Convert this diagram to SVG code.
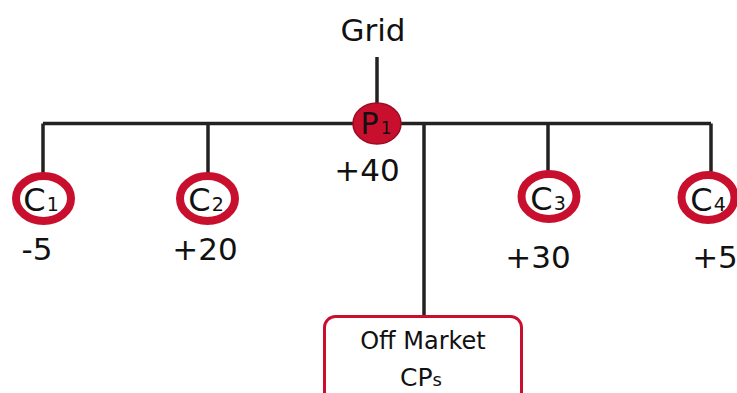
<svg xmlns="http://www.w3.org/2000/svg" width="737" height="393" viewBox="0 0 737 393">
<style>
.ln{stroke:#222;stroke-width:3.5;fill:none}
.cn{fill:#fff;stroke:#c8102e;stroke-width:8}
.t{font-family:"DejaVu Sans","Liberation Sans",sans-serif;fill:#111}
.lbl{font-size:31px;text-anchor:middle}
.sub{font-size:19px}
.cl{font-size:32px;text-anchor:middle}
</style>
<rect width="737" height="393" fill="#fff"/>
<g id="connectors">
<line class="ln" x1="377" y1="57" x2="377" y2="105"/>
<line class="ln" x1="43" y1="123.5" x2="711" y2="123.5"/>
<line class="ln" x1="43" y1="123.5" x2="43" y2="175"/>
<line class="ln" x1="208" y1="123.5" x2="208" y2="175"/>
<line class="ln" x1="548" y1="123.5" x2="548" y2="173"/>
<line class="ln" x1="711" y1="123.5" x2="711" y2="174"/>
<line class="ln" x1="424" y1="123.5" x2="424" y2="317"/>
</g>
<g id="grid"><text class="t lbl" x="373" y="41" font-size="32">Grid</text></g>
<g id="P1">
<ellipse cx="377" cy="123.5" rx="24" ry="20.5" fill="#c8102e" stroke="#9a0b22" stroke-width="1.5"/>
<text class="t" x="376" y="133.5" font-size="30" text-anchor="middle" fill="#111">P<tspan font-size="17" dx="2">1</tspan></text>
<text class="t lbl" x="367" y="181">+40</text>
</g>
<g id="C1">
<ellipse class="cn" cx="43.5" cy="198.5" rx="27.5" ry="22.5"/>
<text class="t cl" x="41" y="211">C<tspan class="sub" dx="1">1</tspan></text>
<text class="t lbl" x="37" y="260">-5</text>
</g>
<g id="C2">
<ellipse class="cn" cx="207.5" cy="198.5" rx="27.5" ry="22.5"/>
<text class="t cl" x="206" y="211">C<tspan class="sub" dx="1">2</tspan></text>
<text class="t lbl" x="205" y="260">+20</text>
</g>
<g id="C3">
<ellipse class="cn" cx="549" cy="196.5" rx="27.5" ry="22.5"/>
<text class="t cl" x="548" y="210">C<tspan class="sub" dx="1">3</tspan></text>
<text class="t lbl" x="538" y="268">+30</text>
</g>
<g id="C4">
<ellipse class="cn" cx="708" cy="197.5" rx="26.5" ry="22.5"/>
<text class="t cl" x="708" y="211">C<tspan class="sub" dx="1">4</tspan></text>
<text class="t lbl" x="715" y="268">+5</text>
</g>
<g id="offmarket">
<rect x="324.5" y="316.5" width="197" height="100" rx="11" fill="#fff" stroke="#c8102e" stroke-width="3"/>
<text class="t" x="423" y="349" font-size="24" text-anchor="middle" fill="#333">Off Market</text>
<text class="t" x="421" y="386" font-size="25" text-anchor="middle" fill="#333">CP<tspan font-size="18">s</tspan></text>
</g>
</svg>
